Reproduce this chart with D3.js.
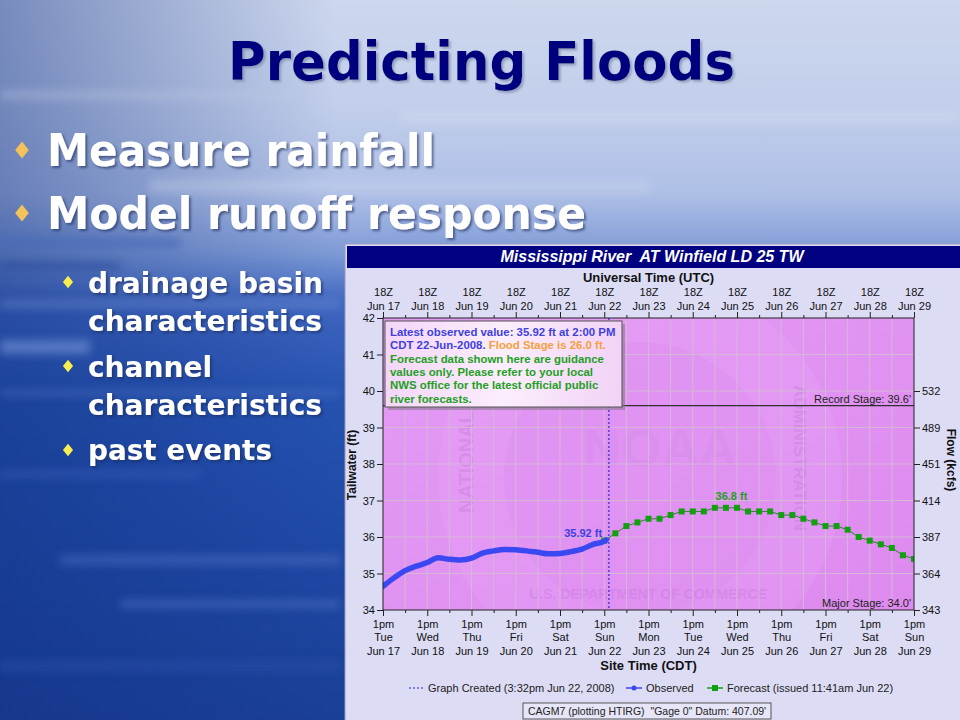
<!DOCTYPE html>
<html>
<head>
<meta charset="utf-8">
<script src="https://cdn.jsdelivr.net/npm/d3@7"></script>
<style>
body { margin: 0; background: #1d45a0; }
svg { display: block; }
</style>
</head>
<body>
<div id="slide"></div>
<script>

// observed tailwater stage (ft), hours after 18Z Jun 17
const obsHours = [0, 6, 12, 18, 24, 30, 36, 42, 48, 54, 60, 66, 72, 78, 84, 90, 96, 102, 108, 114, 120, 121];
const obsStage = [34.65, 34.88, 35.08, 35.20, 35.30, 35.43, 35.39, 35.37, 35.42, 35.56, 35.62, 35.66, 35.65, 35.62, 35.58, 35.54, 35.55, 35.60, 35.67, 35.80, 35.88, 35.92];

// forecast stage (ft), 6-hourly
const fcstHours = [120, 126, 132, 138, 144, 150, 156, 162, 168, 174, 180, 186, 192, 198, 204, 210, 216, 222, 228, 234, 240, 246, 252, 258, 264, 270, 276, 282, 288];
const fcstStage = [35.9, 36.1, 36.3, 36.4, 36.5, 36.5, 36.6, 36.7, 36.7, 36.7, 36.8, 36.8, 36.8, 36.7, 36.7, 36.7, 36.6, 36.6, 36.5, 36.4, 36.3, 36.3, 36.2, 36.0, 35.9, 35.8, 35.7, 35.5, 35.4];

// axis labels
const utcDays = ["Jun 17", "Jun 18", "Jun 19", "Jun 20", "Jun 21", "Jun 22", "Jun 23", "Jun 24", "Jun 25", "Jun 26", "Jun 27", "Jun 28", "Jun 29"];
const siteDays = ["Tue", "Wed", "Thu", "Fri", "Sat", "Sun", "Mon", "Tue", "Wed", "Thu", "Fri", "Sat", "Sun"];
const stageTicks = [34, 35, 36, 37, 38, 39, 40, 41, 42];
const flowStages = [34, 35, 36, 37, 38, 39, 40];
const flowLabels = [343, 364, 387, 414, 451, 489, 532];

const recordStage = 39.6;
const majorStage = 34.0;
const createdHour = 122.53; // 3:32pm CDT Jun 22 = 20:32Z
const peakLabelHour = 189;

const W = 960, H = 720;
const start = Date.UTC(2008, 5, 17, 18);
const t = h => new Date(start + h * 3600e3);

const svg = d3.select("#slide").append("svg")
	.attr("width", W)
	.attr("height", H);

const defs = svg.append("defs");

// ---------- slide background ----------
let bg = defs.append("linearGradient").attr("id", "bgv")
	.attr("x1", 0).attr("y1", 0).attr("x2", 0).attr("y2", 1);
[[0, "#cdd7ee"], [0.14, "#c3cfeb"], [0.27, "#aebfe6"], [0.35, "#7f9bd6"], [0.42, "#3f66c0"], [0.55, "#2552b0"], [0.75, "#1f49a6"], [1, "#1a3f96"]]
	.forEach(s => bg.append("stop").attr("offset", s[0]).attr("stop-color", s[1]));

let bgh = defs.append("linearGradient").attr("id", "bgh")
	.attr("x1", 0).attr("y1", 0).attr("x2", 1).attr("y2", 0);
bgh.append("stop").attr("offset", 0).attr("stop-color", "#0f2f80").attr("stop-opacity", 0.45);
bgh.append("stop").attr("offset", 0.35).attr("stop-color", "#0f2f80").attr("stop-opacity", 0);

defs.append("filter").attr("id", "blur").append("feGaussianBlur").attr("stdDeviation", 4);

let sh = defs.append("filter").attr("id", "shadow");
sh.append("feDropShadow").attr("dx", 2).attr("dy", 2).attr("stdDeviation", 1)
	.attr("flood-color", "#1a2a5a").attr("flood-opacity", 0.6);

let tsh = defs.append("filter").attr("id", "tshadow");
tsh.append("feDropShadow").attr("dx", 2).attr("dy", 2).attr("stdDeviation", 0.8)
	.attr("flood-color", "#7c88aa").attr("flood-opacity", 0.7);

svg.append("rect").attr("width", W).attr("height", H).attr("fill", "url(#bgv)");
svg.append("rect").attr("width", W).attr("height", H).attr("fill", "url(#bgh)");

// horizontal streaks
const streaks = [
	[0, 238, 180, 10, "#4a68b8", 0.7], [0, 262, 120, 8, "#2a4a9a", 0.6],
	[0, 340, 90, 14, "#7c9ade", 0.55], [0, 390, 340, 6, "#6a8ad0", 0.35],
	[0, 300, 340, 8, "#8aa4dc", 0.35], [60, 555, 280, 10, "#4d72c4", 0.5],
	[120, 600, 220, 8, "#5a7ccc", 0.45], [0, 470, 200, 8, "#3a62bc", 0.45],
	[0, 660, 340, 12, "#2850a8", 0.5], [150, 180, 500, 12, "#d8e0f2", 0.3],
	[400, 110, 560, 14, "#d4ddf1", 0.35], [0, 90, 300, 10, "#b9c6e6", 0.35]
];
svg.append("g").attr("filter", "url(#blur)")
	.selectAll("rect").data(streaks).join("rect")
	.attr("x", d => d[0]).attr("y", d => d[1])
	.attr("width", d => d[2]).attr("height", d => d[3])
	.attr("fill", d => d[4]).attr("opacity", d => d[5]);

// ---------- slide text ----------
const slideFont = "'DejaVu Sans Condensed', 'DejaVu Sans', sans-serif";

svg.append("text")
	.attr("x", 228).attr("y", 80)
	.attr("textLength", 507).attr("lengthAdjust", "spacingAndGlyphs")
	.style("font-family", slideFont).style("font-weight", "bold").style("font-size", "54px")
	.attr("fill", "#00007e").attr("filter", "url(#tshadow)")
	.text("Predicting Floods");

const bullets = [
	{text: "Measure rainfall", x: 47, y: 166, w: 388, size: 44, bx: 22, by: 150, bs: 12, bc: "#f4c25a"},
	{text: "Model runoff response", x: 47, y: 229, w: 539, size: 44, bx: 22, by: 213, bs: 12, bc: "#f4c25a"},
	{text: "drainage basin", x: 88, y: 293, w: 235, size: 29, bx: 68, by: 282, bs: 9, bc: "#f8ee50"},
	{text: "characteristics", x: 88, y: 331, w: 234, size: 29},
	{text: "channel", x: 88, y: 377, w: 124, size: 29, bx: 68, by: 366, bs: 9, bc: "#f8ee50"},
	{text: "characteristics", x: 88, y: 415, w: 234, size: 29},
	{text: "past events", x: 88, y: 460, w: 184, size: 29, bx: 68, by: 450, bs: 9, bc: "#f8ee50"}
];

svg.append("g").selectAll("text").data(bullets).join("text")
	.attr("x", d => d.x).attr("y", d => d.y)
	.attr("textLength", d => d.w).attr("lengthAdjust", "spacingAndGlyphs")
	.style("font-family", slideFont).style("font-weight", "bold")
	.style("font-size", d => d.size + "px")
	.attr("fill", "#ffffff").attr("filter", "url(#shadow)")
	.text(d => d.text);

svg.append("g").selectAll("rect").data(bullets.filter(d => d.bx)).join("rect")
	.attr("x", d => -d.bs / 2).attr("y", d => -d.bs / 2)
	.attr("width", d => d.bs).attr("height", d => d.bs)
	.attr("transform", d => `translate(${d.bx},${d.by}) scale(0.8,1) rotate(45)`)
	.attr("fill", d => d.bc);

// ---------- hydrograph panel ----------
const font = "'Liberation Sans', Arial, sans-serif";
const margin = {left: 383, right: 914, top: 318, bottom: 610};

const panel = svg.append("g").style("font-family", font);

panel.append("rect")
	.attr("x", 345).attr("y", 244).attr("width", 620).attr("height", 480)
	.attr("fill", "#dcdcf5").attr("stroke", "#9a9ab8");

panel.append("rect")
	.attr("x", 347).attr("y", 246).attr("width", 613).attr("height", 22)
	.attr("fill", "#000080");

panel.append("text")
	.attr("x", 652).attr("y", 262)
	.attr("text-anchor", "middle")
	.style("font-size", "16px").style("font-weight", "bold").style("font-style", "italic")
	.attr("fill", "#ffffff")
	.attr("xml:space", "preserve")
	.text("Mississippi River  AT Winfield LD 25 TW");

// scales
const x = d3.scaleUtc()
	.domain([t(0), t(288)])
	.range([margin.left, margin.right]);
const y = d3.scaleLinear()
	.domain([34, 42])
	.range([margin.bottom, margin.top]);

const plotW = margin.right - margin.left, plotH = margin.bottom - margin.top;

defs.append("clipPath").attr("id", "plotclip").append("rect")
	.attr("x", margin.left).attr("y", margin.top).attr("width", plotW).attr("height", plotH);

let pg = defs.append("linearGradient").attr("id", "plotbg")
	.attr("x1", 0).attr("y1", 0).attr("x2", 1).attr("y2", 1);
pg.append("stop").attr("offset", 0).attr("stop-color", "#e39bf5");
pg.append("stop").attr("offset", 1).attr("stop-color", "#de8aef");

panel.append("rect")
	.attr("x", margin.left).attr("y", margin.top).attr("width", plotW).attr("height", plotH)
	.attr("fill", "url(#plotbg)");

// faint NOAA watermark
const wm = panel.append("g").attr("clip-path", "url(#plotclip)");
const cx = 640, cy = 478, r = 172;
wm.append("circle").attr("cx", cx).attr("cy", cy).attr("r", r + 30)
	.attr("fill", "#e8a6f8").attr("opacity", 0.3);
wm.append("circle").attr("cx", cx).attr("cy", cy).attr("r", r - 36)
	.attr("fill", "#dc88ee").attr("opacity", 0.3);
const wmWords = [
	{text: "NATIONAL", x: 466, y: 462, rot: -90, size: 20},
	{text: "ADMINISTRATION", x: 800, y: 458, rot: 90, size: 17},
	{text: "U.S. DEPARTMENT OF COMMERCE", x: 648, y: 594, rot: 0, size: 14}
];
wm.selectAll("text.wm").data(wmWords).join("text").attr("class", "wm")
	.attr("transform", d => `translate(${d.x},${d.y}) rotate(${d.rot})`)
	.attr("text-anchor", "middle").attr("dy", "0.35em")
	.style("font-size", d => d.size + "px").style("font-weight", "bold")
	.attr("fill", "#c070d6").attr("opacity", 0.3)
	.text(d => d.text);
wm.append("text").attr("x", cx + 20).attr("y", cy - 12).attr("text-anchor", "middle")
	.style("font-size", "52px").style("font-weight", "bold")
	.attr("fill", "#d286e6").attr("opacity", 0.3)
	.text("NOAA");

// grid
const gridX = d3.range(1, 24).map(i => t(i * 12));
const gridY = stageTicks.slice(1, -1);

panel.append("g").selectAll("line").data(gridX).join("line")
	.attr("x1", d => x(d)).attr("x2", d => x(d))
	.attr("y1", margin.top).attr("y2", margin.bottom)
	.attr("stroke", "#d4b8d6").attr("stroke-width", 1);
panel.append("g").selectAll("line").data(gridY).join("line")
	.attr("x1", margin.left).attr("x2", margin.right)
	.attr("y1", d => y(d)).attr("y2", d => y(d))
	.attr("stroke", "#d4b8d6").attr("stroke-width", 1);

// flood category lines
panel.append("line")
	.attr("x1", margin.left).attr("x2", margin.right)
	.attr("y1", y(recordStage)).attr("y2", y(recordStage))
	.attr("stroke", "#303030").attr("stroke-width", 1.2);
panel.append("text")
	.attr("x", margin.right - 3).attr("y", y(recordStage) - 3)
	.attr("text-anchor", "end").style("font-size", "11px").attr("fill", "#222")
	.text("Record Stage: " + recordStage.toFixed(1) + "'");
panel.append("text")
	.attr("x", margin.right - 3).attr("y", y(majorStage) - 3)
	.attr("text-anchor", "end").style("font-size", "11px").attr("fill", "#222")
	.text("Major Stage: " + majorStage.toFixed(1) + "'");

// graph-created marker
panel.append("line")
	.attr("x1", x(t(createdHour))).attr("x2", x(t(createdHour)))
	.attr("y1", margin.top).attr("y2", margin.bottom)
	.attr("stroke", "#2a2ad8").attr("stroke-width", 1.2).attr("stroke-dasharray", "2,2");

// info box
const box = {x: 385, y: 321, w: 237, h: 86};
panel.append("rect")
	.attr("x", box.x + 3).attr("y", box.y + 3).attr("width", box.w).attr("height", box.h)
	.attr("fill", "#8a7a90").attr("opacity", 0.6);
let ig = defs.append("linearGradient").attr("id", "infobg")
	.attr("x1", 0).attr("y1", 0).attr("x2", 1).attr("y2", 0);
ig.append("stop").attr("offset", 0).attr("stop-color", "#f4d6f8");
ig.append("stop").attr("offset", 0.5).attr("stop-color", "#fbeefc");
ig.append("stop").attr("offset", 1).attr("stop-color", "#f2d2f6");
panel.append("rect")
	.attr("x", box.x).attr("y", box.y).attr("width", box.w).attr("height", box.h)
	.attr("fill", "url(#infobg)").attr("stroke", "#555").attr("stroke-width", 1);

const infoLines = [
	[["Latest observed value: 35.92 ft at 2:00 PM", "#3f3fe0"]],
	[["CDT 22-Jun-2008. ", "#3f3fe0"], ["Flood Stage is 26.0 ft.", "#f4a040"]],
	[["Forecast data shown here are guidance", "#1fa01f"]],
	[["values only. Please refer to your local", "#1fa01f"]],
	[["NWS office for the latest official public", "#1fa01f"]],
	[["river forecasts.", "#1fa01f"]]
];
infoLines.forEach((line, i) => {
	let tx = panel.append("text")
		.attr("x", box.x + 5).attr("y", box.y + 15 + i * 13.3)
		.style("font-size", "11.4px").style("font-weight", "bold")
		.attr("xml:space", "preserve");
	line.forEach(seg => tx.append("tspan").attr("fill", seg[1]).text(seg[0]));
});

// observed series
const obs = obsHours.map((h, i) => ({t: t(h), v: obsStage[i]}));
const fcst = fcstHours.map((h, i) => ({t: t(h), v: fcstStage[i]}));

const plot = panel.append("g").attr("clip-path", "url(#plotclip)");

plot.append("path").datum(fcst)
	.attr("fill", "none").attr("stroke", "#3d7a3d").attr("stroke-width", 1)
	.attr("d", d3.line().x(d => x(d.t)).y(d => y(d.v)));
plot.selectAll("rect.fc").data(fcst).join("rect").attr("class", "fc")
	.attr("x", d => x(d.t) - 3).attr("y", d => y(d.v) - 3)
	.attr("width", 6).attr("height", 6)
	.attr("fill", "#10a010");

plot.append("path").datum(obs)
	.attr("fill", "none").attr("stroke", "#3a48f2").attr("stroke-width", 5.5)
	.attr("stroke-linecap", "round")
	.attr("d", d3.line().curve(d3.curveMonotoneX).x(d => x(d.t)).y(d => y(d.v)));

const lastObs = obs[obs.length - 1];
panel.append("text")
	.attr("x", x(lastObs.t) - 4).attr("y", y(lastObs.v) - 3)
	.attr("text-anchor", "end")
	.style("font-size", "11px").style("font-weight", "bold").attr("fill", "#4040e0")
	.text(lastObs.v.toFixed(2) + " ft");

const peak = d3.max(fcstStage);
panel.append("text")
	.attr("x", x(t(peakLabelHour))).attr("y", y(peak) - 8)
	.attr("text-anchor", "middle")
	.style("font-size", "11px").style("font-weight", "bold").attr("fill", "#1f9f1f")
	.text(peak.toFixed(1) + " ft");

// plot frame
panel.append("rect")
	.attr("x", margin.left).attr("y", margin.top).attr("width", plotW).attr("height", plotH)
	.attr("fill", "none").attr("stroke", "#222").attr("stroke-width", 1);

// axes
const majorT = d3.range(13).map(i => t(i * 24));
const minorT = d3.range(12).map(i => t(i * 24 + 12));

function styleAxis(g) {
	g.select(".domain").remove();
	g.selectAll("line").attr("stroke", "#222");
	g.selectAll("text").attr("fill", "#111").style("font-size", "11px").style("font-family", font);
}

// top (UTC)
panel.append("g").attr("transform", `translate(0,${margin.top})`)
	.call(d3.axisTop(x).tickValues(minorT).tickSize(3).tickFormat(""))
	.call(styleAxis);
let topAx = panel.append("g").attr("transform", `translate(0,${margin.top})`)
	.call(d3.axisTop(x).tickValues(majorT).tickSize(6).tickFormat(""))
	.call(styleAxis);
topAx.selectAll(".tick").append("text")
	.attr("text-anchor", "middle").attr("fill", "#111")
	.style("font-size", "11px")
	.each(function (d, i) {
		let s = d3.select(this);
		s.append("tspan").attr("x", 0).attr("y", -22).text("18Z");
		s.append("tspan").attr("x", 0).attr("y", -8.5).text(utcDays[i]);
	});
panel.append("text")
	.attr("x", (margin.left + margin.right) / 2).attr("y", 282)
	.attr("text-anchor", "middle")
	.style("font-size", "13px").style("font-weight", "bold").attr("fill", "#111")
	.text("Universal Time (UTC)");

// bottom (site time)
panel.append("g").attr("transform", `translate(0,${margin.bottom})`)
	.call(d3.axisBottom(x).tickValues(minorT).tickSize(3).tickFormat(""))
	.call(styleAxis);
let botAx = panel.append("g").attr("transform", `translate(0,${margin.bottom})`)
	.call(d3.axisBottom(x).tickValues(majorT).tickSize(6).tickFormat(""))
	.call(styleAxis);
botAx.selectAll(".tick").append("text")
	.attr("text-anchor", "middle").attr("fill", "#111")
	.style("font-size", "11px")
	.each(function (d, i) {
		let s = d3.select(this);
		s.append("tspan").attr("x", 0).attr("y", 18).text("1pm");
		s.append("tspan").attr("x", 0).attr("y", 31).text(siteDays[i]);
		s.append("tspan").attr("x", 0).attr("y", 45).text(utcDays[i]);
	});
panel.append("text")
	.attr("x", (margin.left + margin.right) / 2).attr("y", 670)
	.attr("text-anchor", "middle")
	.style("font-size", "13px").style("font-weight", "bold").attr("fill", "#111")
	.text("Site Time (CDT)");

// left (stage)
panel.append("g").attr("transform", `translate(${margin.left},0)`)
	.call(d3.axisLeft(y).tickValues(stageTicks).tickSize(6).tickPadding(2).tickFormat(d3.format("d")))
	.call(styleAxis);
panel.append("text")
	.attr("transform", "translate(356,465) rotate(-90)")
	.attr("text-anchor", "middle")
	.style("font-size", "12px").style("font-weight", "bold").attr("fill", "#111")
	.text("Tailwater (ft)");

// right (flow)
panel.append("g").attr("transform", `translate(${margin.right},0)`)
	.call(d3.axisRight(y).tickValues(flowStages).tickSize(6).tickPadding(2).tickFormat((d, i) => flowLabels[i]))
	.call(styleAxis);
panel.append("text")
	.attr("transform", "translate(947,460) rotate(90)")
	.attr("text-anchor", "middle")
	.style("font-size", "12px").style("font-weight", "bold").attr("fill", "#111")
	.text("Flow (kcfs)");

// legend
const lg = panel.append("g").attr("transform", "translate(409,688)").style("font-size", "11px");
lg.append("line").attr("x1", 0).attr("x2", 15).attr("y1", 0).attr("y2", 0)
	.attr("stroke", "#2a2ad8").attr("stroke-dasharray", "2,2");
lg.append("text").attr("x", 19).attr("y", 4).attr("fill", "#222").text("Graph Created (3:32pm Jun 22, 2008)");
lg.append("line").attr("x1", 217).attr("x2", 233).attr("y1", 0).attr("y2", 0).attr("stroke", "#3a48f2").attr("stroke-width", 1.5);
lg.append("circle").attr("cx", 225).attr("cy", 0).attr("r", 2.5).attr("fill", "#3a48f2");
lg.append("text").attr("x", 237).attr("y", 4).attr("fill", "#222").text("Observed");
lg.append("line").attr("x1", 298).attr("x2", 314).attr("y1", 0).attr("y2", 0).attr("stroke", "#10a010").attr("stroke-width", 1.5);
lg.append("rect").attr("x", 303).attr("y", -3).attr("width", 6).attr("height", 6).attr("fill", "#10a010");
lg.append("text").attr("x", 318).attr("y", 4).attr("fill", "#222").text("Forecast (issued 11:41am Jun 22)");

// datum box
panel.append("rect")
	.attr("x", 523).attr("y", 703).attr("width", 248).attr("height", 16)
	.attr("fill", "#e6e6f8").attr("stroke", "#555");
panel.append("text")
	.attr("x", 647).attr("y", 715).attr("text-anchor", "middle")
	.style("font-size", "10.5px").attr("fill", "#222")
	.attr("xml:space", "preserve")
	.text("CAGM7 (plotting HTIRG)  \"Gage 0\" Datum: 407.09'");

</script>
</body>
</html>
